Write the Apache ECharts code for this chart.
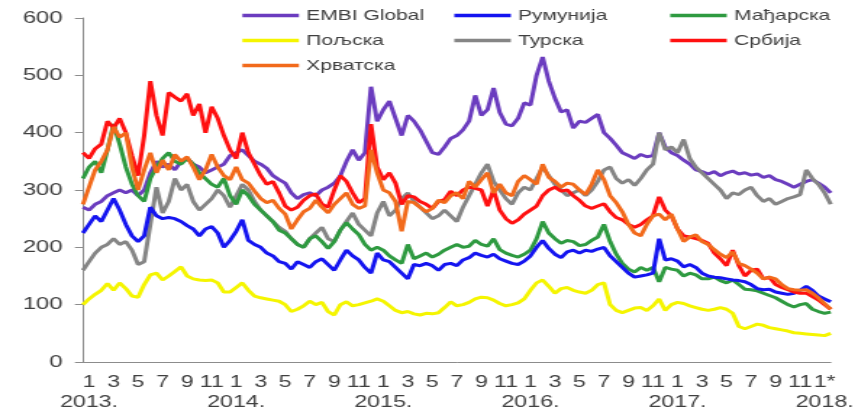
<!DOCTYPE html>
<html>
<head>
<meta charset="utf-8">
<script src="https://cdn.jsdelivr.net/npm/echarts@6.0.0/dist/echarts.min.js"></script>
<style>
    html, body { margin: 0; padding: 0; background: #fff; overflow: hidden; }
    /* the source picture is stretched sideways, so draw narrow and widen */
    #chart { width: 592px; height: 415px; transform: scaleX(1.4493); transform-origin: 0 0; }
</style>
</head>
<body>
<div id="chart"></div>
<script>
// half-month steps, from late Dec 2012 to late Jan 2018
var categories = ['2012-12-b'];
for (var y = 2013; y <= 2017; y++) {
    for (var m = 1; m <= 12; m++) {
        categories.push(y + '-' + (m < 10 ? '0' + m : m) + '-a');
        categories.push(y + '-' + (m < 10 ? '0' + m : m) + '-b');
    }
}
categories.push('2018-01-a', '2018-01-b');

var embi = [270, 265, 275, 280, 290, 295, 300, 295, 300, 290,
    300, 330, 350, 340, 345, 335, 350, 355, 345, 340,
    330, 335, 340, 345, 360, 365, 370, 360, 350, 345,
    338, 325, 318, 312, 295, 285, 292, 295, 290, 300,
    305, 312, 325, 350, 370, 352, 365, 480, 420, 440,
    455, 425, 395, 430, 420, 405, 385, 365, 362, 375,
    390, 395, 405, 420, 465, 430, 440, 478, 435, 415,
    412, 425, 452, 448, 500, 532, 490, 460, 436, 440,
    408, 420, 418, 425, 432, 400, 390, 378, 365, 360,
    355, 362, 358, 360, 400, 375, 365, 360, 352, 345,
    335, 332, 328, 332, 325, 330, 333, 328, 330, 326,
    328, 322, 325, 318, 315, 310, 305, 310, 315, 318,
    312, 305, 295];

var romania = [225, 240, 255, 245, 265, 285, 265, 240, 220, 210,
    220, 270, 255, 250, 252, 250, 245, 238, 232, 220,
    232, 236, 225, 200, 212, 228, 248, 212, 205, 200,
    190, 185, 175, 172, 162, 175, 170, 165, 175, 180,
    170, 160, 178, 195, 185, 178, 165, 155, 190, 178,
    175, 165, 155, 145, 170, 168, 172, 168, 160, 170,
    172, 168, 178, 182, 190, 186, 183, 188, 180, 176,
    172, 170, 176, 185, 200, 212, 198, 188, 182, 192,
    195, 190, 195, 193, 197, 200, 185, 175, 165, 155,
    148, 150, 152, 155, 215, 178, 180, 176, 166, 170,
    165, 155, 150, 148, 147, 145, 143, 142, 140, 135,
    128, 126, 127, 122, 120, 118, 120, 125, 132, 125,
    115, 110, 105];

var hungary = [320, 340, 350, 330, 370, 415, 380, 340, 310, 290,
    280, 320, 340, 355, 365, 350, 345, 355, 345, 330,
    320, 310, 305, 320, 290, 275, 300, 290, 275, 265,
    255, 245, 230, 225, 215, 205, 200, 215, 220, 210,
    198, 210, 230, 243, 232, 222, 205, 195, 200, 195,
    185, 178, 172, 205, 180, 185, 190, 183, 188, 195,
    200, 205, 200, 202, 212, 205, 202, 215, 196, 190,
    186, 183, 188, 195, 215, 245, 225, 215, 207, 212,
    210, 203, 205, 212, 218, 240, 210, 188, 172, 162,
    157, 165, 160, 165, 140, 165, 162, 160, 150, 155,
    152, 145, 145, 148, 142, 138, 143, 135, 127, 126,
    124, 120, 116, 112, 106, 100, 96, 100, 102, 92,
    88, 85, 87];

var poland = [100, 110, 118, 125, 137, 125, 138, 128, 115, 113,
    135, 152, 155, 143, 150, 158, 166, 150, 145, 143,
    142, 143, 138, 122, 122, 130, 138, 125, 115, 112,
    110, 108, 106, 100, 88, 92, 98, 106, 100, 104,
    88, 82, 100, 105, 98, 100, 103, 106, 110, 106,
    98, 90, 86, 88, 84, 82, 85, 84, 86, 95,
    105, 98, 100, 104, 110, 113, 112, 108, 102, 98,
    100, 103, 110, 125, 138, 143, 132, 120, 128, 130,
    125, 122, 120, 125, 135, 138, 100, 90, 86, 90,
    94, 95, 90, 98, 110, 90, 100, 104, 102, 98,
    95, 92, 90, 92, 95, 92, 85, 62, 58, 62,
    66, 64, 60, 58, 56, 54, 51, 50, 49, 48,
    47, 46, 50];

var turkey = [160, 175, 190, 200, 205, 215, 205, 210, 195, 170,
    175, 240, 305, 260, 280, 320, 300, 310, 280, 265,
    275, 285, 300, 290, 270, 290, 310, 300, 280, 265,
    255, 245, 235, 228, 215, 205, 200, 215, 225, 235,
    215, 210, 230, 245, 260, 240, 230, 220, 260, 280,
    255, 265, 285, 295, 280, 270, 260, 250, 255, 265,
    255, 245, 270, 290, 310, 330, 345, 315, 300, 285,
    275, 295, 305, 300, 320, 340, 325, 310, 300, 290,
    295, 300, 290, 300, 315, 335, 340, 320, 312, 318,
    308, 320, 335, 345, 400, 370, 375, 365, 388, 355,
    340, 330, 320, 310, 300, 285, 295, 292, 300, 305,
    290, 280, 285, 275, 280, 285, 288, 292, 335, 320,
    310, 295, 275];

var serbia = [365, 355, 372, 380, 420, 408, 425, 400, 360, 325,
    395, 490, 430, 395, 470, 462, 455, 468, 430, 450,
    400, 445, 425, 395, 370, 355, 400, 365, 345, 325,
    310, 315, 295, 272, 265, 270, 282, 290, 293, 275,
    270, 300, 325, 315, 295, 278, 285, 415, 340, 318,
    330, 312, 275, 290, 288, 280, 275, 268, 280, 283,
    298, 290, 300, 305, 303, 300, 272, 300, 265, 250,
    242, 248, 258, 265, 272, 290, 300, 305, 298, 300,
    290, 282, 272, 268, 272, 276, 262, 252, 248, 240,
    235, 240, 248, 255, 288, 265, 255, 232, 220, 218,
    215, 212, 207, 190, 180, 168, 195, 168, 150, 160,
    162, 145, 148, 135, 130, 126, 122, 120, 120, 114,
    108, 100, 92];

var croatia = [275, 305, 335, 350, 370, 410, 392, 400, 340, 300,
    335, 365, 330, 352, 335, 362, 350, 358, 340, 318,
    335, 362, 340, 325, 318, 340, 318, 312, 298, 285,
    278, 282, 268, 258, 232, 248, 262, 268, 282, 270,
    260, 275, 285, 295, 275, 268, 272, 370, 330, 300,
    295, 280, 228, 280, 278, 270, 262, 268, 282, 278,
    290, 295, 285, 315, 305, 318, 330, 295, 310, 295,
    290, 315, 325, 318, 310, 345, 322, 315, 305, 312,
    310, 300, 292, 310, 335, 318, 290, 278, 262, 240,
    225, 220, 240, 255, 258, 248, 258, 232, 210, 218,
    222, 210, 205, 196, 188, 182, 192, 172, 168, 162,
    155, 145, 148, 145, 135, 128, 126, 125, 126, 120,
    112, 102, 92];

var textColor = '#404040';
var font = '"Liberation Sans", Arial, sans-serif';

function line(name, data, color) {
    return {
        name: name,
        type: 'line',
        data: data,
        symbol: 'none',
        lineStyle: { width: 3, color: color },
        itemStyle: { color: color }
    };
}

function legendCol(left, names) {
    return {
        orient: 'vertical',
        left: left,
        top: 8,
        padding: 0,
        itemGap: 10,
        itemWidth: 39,
        itemHeight: 14,
        // only the line, no round marker on it
        itemStyle: { opacity: 0 },
        lineStyle: { width: 3.5 },
        data: names,
        textStyle: { color: textColor, fontSize: 14.5, fontFamily: font }
    };
}

// month row and year row are two axes so their labels never hide each other
function isShown(index, value) {
    var p = value.split('-');
    return p[2] === 'a' && (+p[1]) % 2 === 1;
}

var chart = echarts.init(document.getElementById('chart'), null, { renderer: 'canvas' });

var option = {
    animation: false,
    backgroundColor: '#fff',
    grid: { left: 57.2, right: 17.5, top: 18, bottom: 53 },
    legend: [
        legendCol(165.5, ['EMBI Global', 'Пољска', 'Хрватска']),
        legendCol(311.7, ['Румунија', 'Турска']),
        legendCol(460.7, ['Мађарска', 'Србија'])
    ],
    xAxis: [{
        type: 'category',
        data: categories,
        boundaryGap: false,
        axisLine: { lineStyle: { color: '#8c8c8c', width: 1 } },
        axisTick: { show: false },
        axisLabel: {
            color: textColor,
            fontSize: 16,
            lineHeight: 20,
            fontFamily: font,
            margin: 11,
            interval: isShown,
            formatter: function (value) {
                var p = value.split('-');
                if (p[0] === '2018') {
                    return '1*';
                }
                return String(+p[1]);
            }
        }
    }, {
        type: 'category',
        position: 'bottom',
        data: categories,
        boundaryGap: false,
        axisLine: { show: false },
        axisTick: { show: false },
        axisLabel: {
            color: textColor,
            fontSize: 16,
            lineHeight: 20,
            fontFamily: font,
            margin: 31,
            interval: function (index, value) {
                return value.slice(5) === '01-a';
            },
            formatter: function (value) {
                return value.slice(0, 4) + '.';
            }
        }
    }],
    yAxis: {
        type: 'value',
        min: 0,
        max: 600,
        interval: 100,
        splitLine: { show: false },
        axisLine: { show: true, lineStyle: { color: '#8c8c8c', width: 1 } },
        axisTick: { show: true, length: 5.5, lineStyle: { color: '#8c8c8c' } },
        axisLabel: { color: textColor, fontSize: 16.5, fontFamily: font, margin: 14 }
    },
    series: [
        line('EMBI Global', embi, '#6b3cbf'),
        line('Пољска', poland, '#f5f500'),
        line('Турска', turkey, '#858585'),
        line('Мађарска', hungary, '#2e9a40'),
        line('Румунија', romania, '#1414f0'),
        line('Србија', serbia, '#ff1010'),
        line('Хрватска', croatia, '#f26a1b')
    ]
};

chart.setOption(option);
</script>
</body>
</html>
